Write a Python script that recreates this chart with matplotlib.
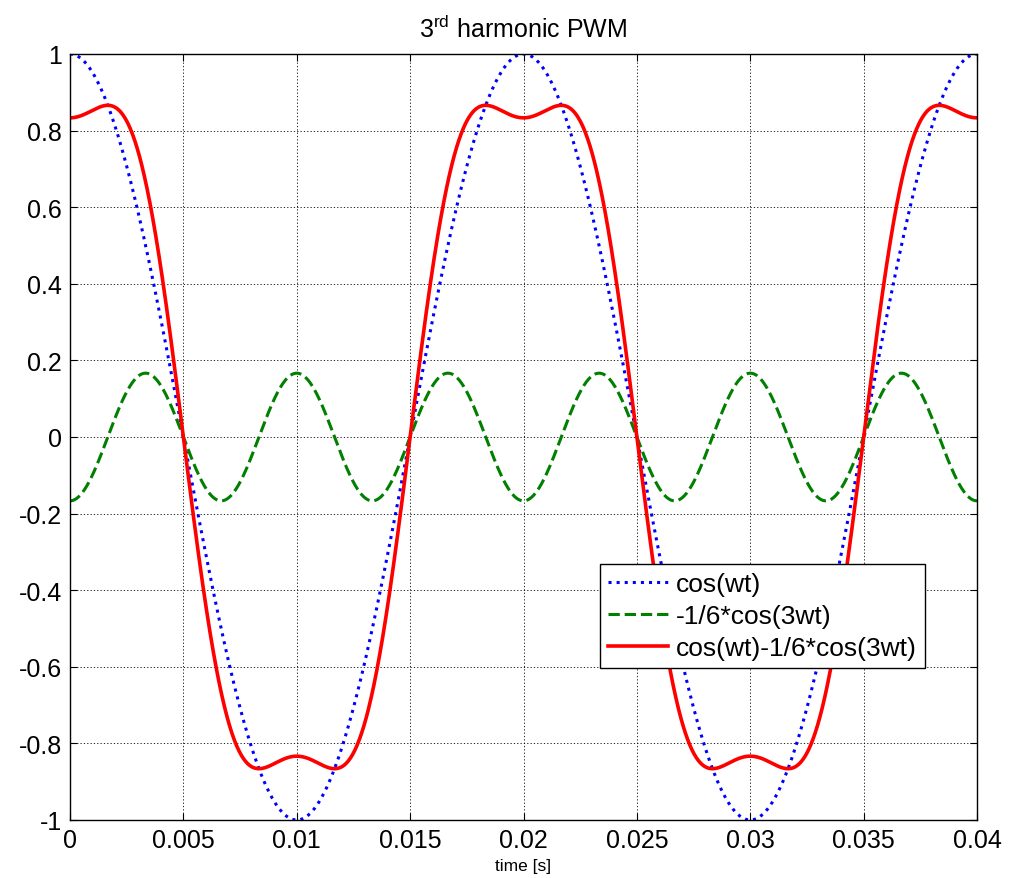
import numpy as np
import matplotlib
matplotlib.use("Agg")
import matplotlib.pyplot as plt

plt.rcParams['font.family'] = ['Liberation Sans', 'DejaVu Sans']

# signal parameters (period 0.02 s -> 50 Hz)
f0 = 50.0
harmonic_order = 3
harmonic_gain = -1.0 / 6.0
t_span = [0.0, 0.04]
labels = ['cos(wt)', '-1/6*cos(3wt)', 'cos(wt)-1/6*cos(3wt)']

xticks = [0, 0.005, 0.01, 0.015, 0.02, 0.025, 0.03, 0.035, 0.04]
xticklabels = ['0', '0.005', '0.01', '0.015', '0.02', '0.025', '0.03', '0.035', '0.04']
yticks = [-1, -0.8, -0.6, -0.4, -0.2, 0, 0.2, 0.4, 0.6, 0.8, 1]
yticklabels = ['-1', '-0.8', '-0.6', '-0.4', '-0.2', '0', '0.2', '0.4', '0.6', '0.8', '1']

t = np.linspace(t_span[0], t_span[1], 2000)
w = 2 * np.pi * f0
fund = np.cos(w * t)
third = harmonic_gain * np.cos(harmonic_order * w * t)
total = fund + third

fig = plt.figure(figsize=(10.17, 8.79), dpi=100)
ax = fig.add_axes([70 / 1017, 1 - 821 / 879, 907 / 1017, 766 / 879])

ax.plot(t, fund, ':', color='#0000ff', lw=2.2, label=labels[0])
ax.plot(t, third, '--', color='#007f00', lw=2.2, label=labels[1])
ax.plot(t, total, '-', color='#ff0000', lw=2.6, label=labels[2])

ax.set_xlim(t_span)
ax.set_ylim(-1, 1)
ax.set_xticks(xticks)
ax.set_xticklabels(xticklabels)
ax.set_yticks(yticks)
ax.set_yticklabels(yticklabels)
ax.tick_params(direction='in', top=True, right=True, labelsize=18, length=5, pad=6)
ax.grid(True, color='black', linestyle=(0, (1.5, 2.5)), linewidth=0.6)
for s in ax.spines.values():
    s.set_linewidth(1.0)

ax.set_title('3$^{\\mathregular{rd}}$ harmonic PWM', fontsize=18, pad=12)
ax.set_xlabel('time [s]', fontsize=12.5, labelpad=4)

leg = ax.legend(loc='upper left', bbox_to_anchor=(0.584, 0.334), borderaxespad=0,
                fontsize=19, fancybox=False, edgecolor='black', framealpha=1,
                handlelength=2.3, handletextpad=0.3, labelspacing=0.3,
                borderpad=0.3)
leg.get_frame().set_linewidth(1.0)

fig.savefig('out.png', dpi=100)
